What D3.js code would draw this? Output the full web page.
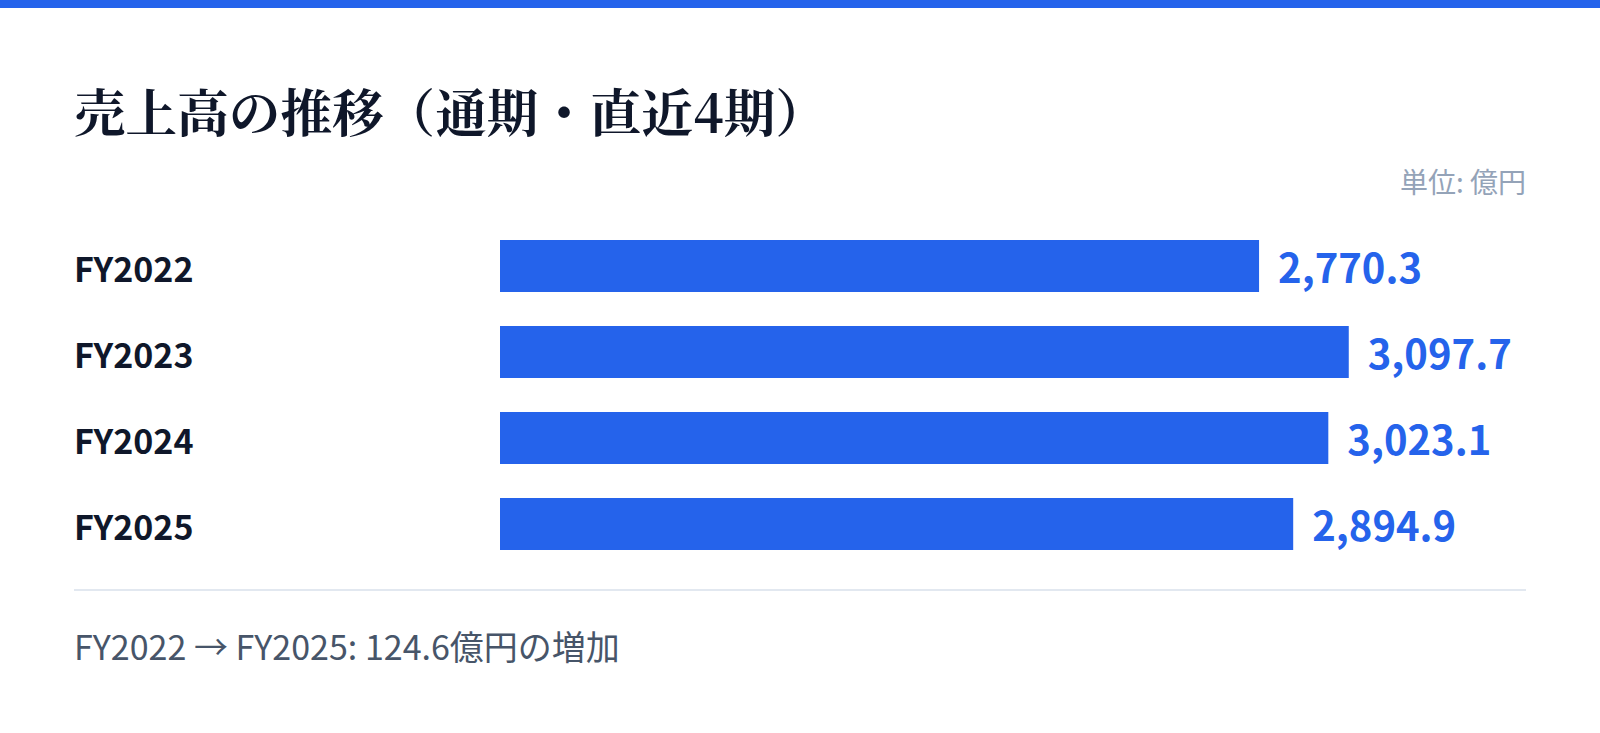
<!DOCTYPE html>
<html lang="ja">
<head>
<meta charset="utf-8">
<script src="https://cdn.jsdelivr.net/npm/d3@7"></script>
<style>
  html, body { margin: 0; padding: 0; background: #ffffff; }
  svg { display: block; }
  .sans { font-family: "Noto Sans CJK JP", "Noto Sans", sans-serif; }
</style>
</head>
<body>
<svg id="chart" width="1600" height="733"></svg>
<script>
// data
const categories = ["FY2022", "FY2023", "FY2024", "FY2025"];
const sales = [2770.3, 3097.7, 3023.1, 2894.9];
const title = "売上高の推移（通期・直近4期）";
const unitLabel = "単位: 億円";
const footnote = "FY2022 → FY2025: 124.6億円の増加";

const W = 1600, H = 733;
const left = 74, right = 1526;
const blue = "#2563eb";

const svg = d3.select("#chart");

svg.append("rect")
  .attr("x", 0).attr("y", 0)
  .attr("width", W).attr("height", 8)
  .attr("fill", blue);

svg.append("text")
  .attr("x", left).attr("y", 132)
  .attr("font-family", "'Noto Serif CJK JP', 'Noto Sans CJK JP', serif")
  .attr("font-weight", 700)
  .attr("font-size", 51.6)
  .attr("fill", "#0f172a")
  .text(title);

svg.append("text")
  .attr("class", "sans")
  .attr("x", right).attr("y", 193)
  .attr("text-anchor", "end")
  .attr("font-size", 28)
  .attr("fill", "#94a3b8")
  .text(unitLabel);

const x = d3.scaleLinear()
  .domain([0, d3.max(sales) * 1.21])
  .range([500, right + 1]);

const y = d3.scaleBand()
  .domain(categories)
  .range([240, 550])
  .paddingInner(34 / 86)
  .paddingOuter(0);

const rows = svg.append("g")
  .selectAll("g")
  .data(categories.map((c, i) => ({ cat: c, value: sales[i] })))
  .join("g");

rows.append("rect")
  .attr("x", x(0))
  .attr("y", d => y(d.cat))
  .attr("width", d => x(d.value) - x(0))
  .attr("height", y.bandwidth())
  .attr("fill", blue);

rows.append("text")
  .attr("class", "sans")
  .attr("x", left)
  .attr("y", d => y(d.cat) + y.bandwidth() / 2 + 16)
  .attr("font-size", 34)
  .attr("font-weight", 700)
  .attr("fill", "#0f172a")
  .text(d => d.cat);

const fmt = d3.format(",.1f");
rows.append("text")
  .attr("class", "sans")
  .attr("x", d => x(d.value) + 19)
  .attr("y", d => y(d.cat) + y.bandwidth() / 2 + 17)
  .attr("font-size", 40)
  .attr("font-weight", 700)
  .attr("fill", blue)
  .text(d => fmt(d.value));

svg.append("line")
  .attr("x1", left).attr("x2", right)
  .attr("y1", 590).attr("y2", 590)
  .attr("stroke", "#e2e8f0")
  .attr("stroke-width", 2);

svg.append("text")
  .attr("class", "sans")
  .attr("x", left).attr("y", 660)
  .attr("font-size", 34)
  .attr("fill", "#475569")
  .text(footnote);
</script>
</body>
</html>
